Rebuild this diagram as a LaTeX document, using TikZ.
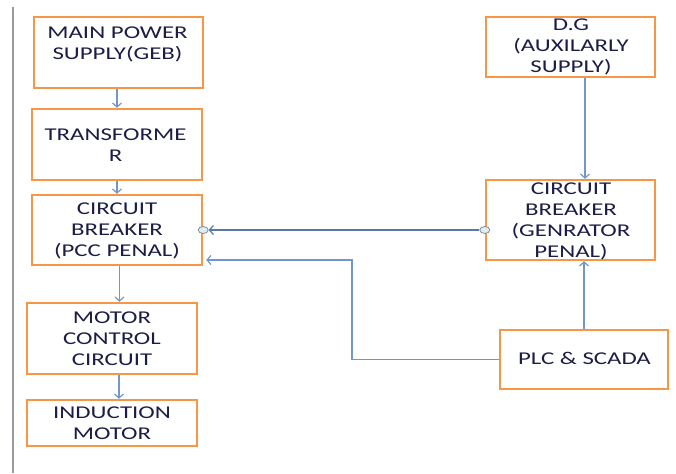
\documentclass[tikz,border=0pt]{standalone}
\usepackage{fontspec}
\newfontfamily\boxfont[FakeStretch=1.38]{Carlito}
\usetikzlibrary{arrows.meta,positioning,shapes.geometric}
\definecolor{boxorange}{HTML}{F79646}
\definecolor{connblue}{HTML}{6F97CC}
\definecolor{txtnavy}{HTML}{1C1C48}
\definecolor{sidegray}{HTML}{9A9AA2}
\definecolor{dotfill}{HTML}{DDEFF5}
\definecolor{dotline}{HTML}{8C8C8C}
\begin{document}
\begin{tikzpicture}[x=1pt,y=1pt,
  blk/.style={draw=boxorange,line width=2.4pt,inner sep=0pt,fill=white},
  lbl/.style={anchor=base,align=center,inner sep=0pt,text=txtnavy,font=\boxfont\fontsize{18}{21}\selectfont},
  conn/.style={draw=connblue,line width=1.2pt,-{Straight Barb[length=4pt,width=9pt]}},
  dot/.style={ellipse,draw=dotline,fill=dotfill,line width=0.8pt,minimum width=10pt,minimum height=7pt,inner sep=0pt}]
\useasboundingbox (0,0) rectangle (676,473);
\coordinate (gtop) at (13,466);
\coordinate (gbot) at (13,0);
\draw[sidegray,line width=2.5pt] (gtop) -- (gbot);
% boxes
\node[blk,minimum width=169pt,minimum height=71pt] (main) at (118.5,420.5) {};
\node[blk,minimum width=170pt,minimum height=71pt] (transf) at (117,328.5) {};
\node[blk,minimum width=170pt,minimum height=70pt] (cbp) at (117,243) {};
\node[blk,minimum width=170pt,minimum height=71pt] (motor) at (112,134.5) {};
\node[blk,minimum width=170pt,minimum height=46pt] (ind) at (112,50) {};
\node[blk,minimum width=169pt,minimum height=60pt] (dg) at (570.5,426) {};
\node[blk,minimum width=169pt,minimum height=80pt] (cbg) at (570.5,253) {};
\node[blk,minimum width=168pt,minimum height=59pt] (plc) at (584,113.5) {};
% labels
\node[lbl] (tmain) at (117.5,413) {MAIN POWER\\SUPPLY(GEB)};
\node[lbl] (ttransf) at (115.5,311) {TRANSFORME\\R};
\node[lbl] (tcbp) at (117,216) {CIRCUIT\\BREAKER\\(PCC PENAL)};
\node[lbl] (tmotor) at (112,107) {MOTOR\\CONTROL\\CIRCUIT};
\node[lbl] (tind) at (112,33) {INDUCTION\\MOTOR};
\node[lbl] (tdg) at (571,400) {D.G\\(AUXILARLY\\SUPPLY)};
\node[lbl] (tcbg) at (571,215) {CIRCUIT\\BREAKER\\(GENRATOR\\PENAL)};
\node[lbl] (tplc) at (584.5,108) {PLC \& SCADA};
% connectors
\draw[conn] (transf.north |- main.south) -- (transf.north);
\draw[conn] (transf.south) -- (cbp.north);
\draw[conn] ([xshift=2.5pt]cbp.south) -- ([xshift=7.5pt]motor.north);
\draw[conn] ([xshift=7pt]motor.south) -- ([xshift=7pt]ind.north);
\draw[conn] ([xshift=14.5pt]dg.south) -- ([xshift=14.5pt]cbg.north);
\draw[conn] (plc.north) -- (plc.north |- cbg.south);
\node[dot] (d1) at (cbp.east) {};
\node[dot] (d2) at (cbg.west |- cbp.east) {};
\draw[conn,draw=connblue!80!black] (d2) -- (d1);
\coordinate (bend) at (352,213);
\draw[conn] (plc.west) -| (bend) -- ([xshift=3pt]bend -| cbp.east);
\end{tikzpicture}
\end{document}
